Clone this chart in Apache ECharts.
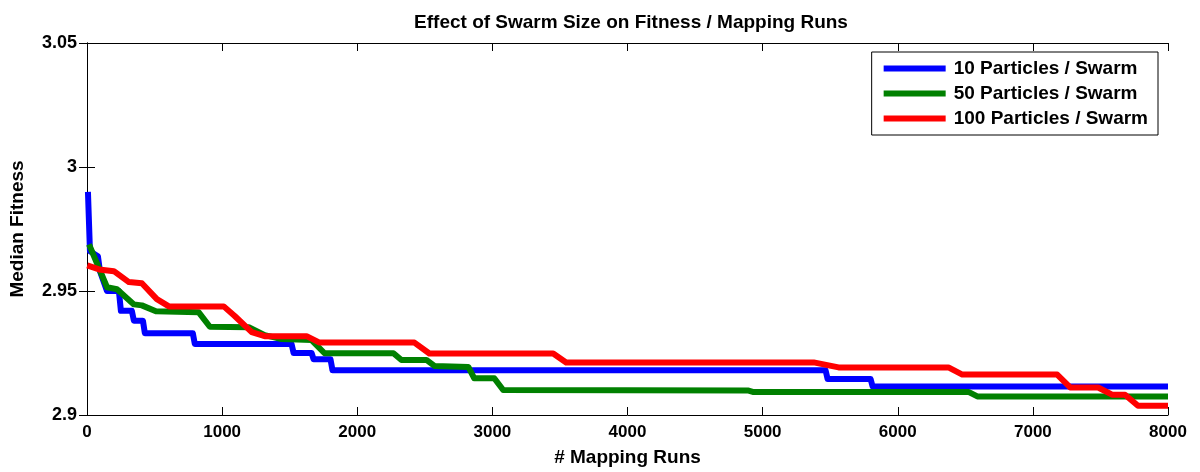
<!DOCTYPE html>
<html>
<head>
<meta charset="utf-8">
<title>Effect of Swarm Size on Fitness / Mapping Runs</title>
<script src="https://cdn.jsdelivr.net/npm/echarts@6/dist/echarts.min.js"></script>
<style>
  html, body { margin: 0; padding: 0; background: #fff; }
  #chart { width: 1200px; height: 472px; }
</style>
</head>
<body>
<div id="chart"></div>
<script>
// Median fitness traces (x = mapping runs, y = median fitness)
const seriesNames = ['10 Particles / Swarm', '50 Particles / Swarm', '100 Particles / Swarm'];
const seriesColors = ['#0000ff', '#008000', '#ff0000'];

const runs10 = [7, 22, 81, 96, 148, 236, 251, 332, 347, 414, 428, 783, 798, 1514, 1529, 1662, 1677, 1802, 1817, 5466, 5481, 5799, 5814, 8000];
const fitness10 = [2.990, 2.966, 2.964, 2.958, 2.950, 2.950, 2.942, 2.942, 2.938, 2.938, 2.933, 2.933, 2.9286, 2.9286, 2.925, 2.925, 2.9225, 2.9225, 2.918, 2.918, 2.9145, 2.9145, 2.9115, 2.9115];

const runs50 = [15, 148, 222, 347, 406, 510, 827, 909, 1197, 1315, 1440, 1662, 1758, 2268, 2327, 2512, 2571, 2822, 2866, 3014, 3080, 4890, 4927, 6523, 6589, 8000];
const fitness50 = [2.9688, 2.9515, 2.9507, 2.9446, 2.9442, 2.9418, 2.9414, 2.9356, 2.9354, 2.9322, 2.9306, 2.9302, 2.9249, 2.9249, 2.9222, 2.9222, 2.9198, 2.9194, 2.9148, 2.9148, 2.9101, 2.9099, 2.9093, 2.9093, 2.9075, 2.9075];

const runs100 = [2, 89, 199, 310, 406, 517, 606, 1012, 1093, 1219, 1315, 1625, 1721, 2423, 2534, 3450, 3546, 5378, 5562, 6375, 6478, 7180, 7276, 7483, 7586, 7682, 7778, 8000];
const fitness100 = [2.9603, 2.9587, 2.9580, 2.9536, 2.9531, 2.9467, 2.9438, 2.9438, 2.9399, 2.9334, 2.9318, 2.9318, 2.9292, 2.9292, 2.9248, 2.9248, 2.9212, 2.9212, 2.9192, 2.9192, 2.9163, 2.9163, 2.9111, 2.9111, 2.9082, 2.9082, 2.9037, 2.9037];

const xTicks = { min: 0, max: 8000, step: 1000 };
const yTicks = { min: 2.9, max: 3.05, step: 0.05 };

function pairs(xs, ys) { return xs.map((x, i) => [x, ys[i]]); }
const traces = [pairs(runs10, fitness10), pairs(runs50, fitness50), pairs(runs100, fitness100)];

const boldFont = 'Liberation Sans, Arial, sans-serif';

const chart = echarts.init(document.getElementById('chart'), null, { renderer: 'canvas' });

const axisLineStyle = { lineStyle: { color: '#000', width: 1 } };
const innerTick = { inside: true, length: 8, lineStyle: { color: '#000' } };
const hidden = { show: false };

chart.setOption({
  animation: false,
  backgroundColor: '#fff',
  title: {
    text: 'Effect of Swarm Size on Fitness / Mapping Runs',
    left: 626, top: 8, textAlign: 'center',
    textStyle: { fontFamily: boldFont, fontWeight: 'bold', fontSize: 19, color: '#000' }
  },
  grid: { left: 85, right: 32, top: 43, bottom: 56, containLabel: false },
  legend: {
    orient: 'vertical',
    right: 42, top: 52,
    data: seriesNames.map(n => ({ name: n, icon: 'rect' })),
    itemWidth: 62, itemHeight: 6, itemGap: 6,
    padding: [7, 10, 7, 12],
    borderColor: '#000', borderWidth: 1, backgroundColor: '#fff', borderRadius: 0,
    textStyle: { fontFamily: boldFont, fontWeight: 'bold', fontSize: 19, color: '#000', padding: [0, 0, 0, 3] }
  },
  xAxis: [{
    type: 'value', position: 'bottom',
    min: xTicks.min, max: xTicks.max, interval: xTicks.step,
    name: '# Mapping Runs', nameLocation: 'middle', nameGap: 33,
    nameTextStyle: { fontFamily: boldFont, fontWeight: 'bold', fontSize: 19, color: '#000' },
    axisLine: axisLineStyle,
    axisTick: innerTick,
    axisLabel: { fontFamily: boldFont, fontWeight: 'bold', fontSize: 17, color: '#000', margin: 9,
                 formatter: v => String(v) },
    splitLine: hidden
  }, {
    type: 'value', position: 'top',
    min: xTicks.min, max: xTicks.max, interval: xTicks.step,
    axisLine: axisLineStyle,
    axisTick: innerTick,
    axisLabel: hidden, splitLine: hidden
  }],
  yAxis: [{
    type: 'value', position: 'left',
    min: yTicks.min, max: yTicks.max, interval: yTicks.step,
    name: 'Median Fitness', nameLocation: 'middle', nameGap: 60,
    nameTextStyle: { fontFamily: boldFont, fontWeight: 'bold', fontSize: 19, color: '#000' },
    axisLine: axisLineStyle,
    axisTick: innerTick,
    axisLabel: { fontFamily: boldFont, fontWeight: 'bold', fontSize: 18, color: '#000', margin: 10 },
    splitLine: hidden
  }, {
    type: 'value', position: 'right',
    min: yTicks.min, max: yTicks.max, interval: yTicks.step,
    axisLine: axisLineStyle,
    axisTick: innerTick,
    axisLabel: hidden, splitLine: hidden
  }],
  series: traces.map((data, i) => ({
    name: seriesNames[i],
    type: 'line',
    data: data,
    xAxisIndex: 0, yAxisIndex: 0,
    symbol: 'none', showSymbol: false,
    clip: true,
    lineStyle: { color: seriesColors[i], width: 6, join: 'round', cap: 'butt' },
    itemStyle: { color: seriesColors[i] }
  }))
});
</script>
</body>
</html>
